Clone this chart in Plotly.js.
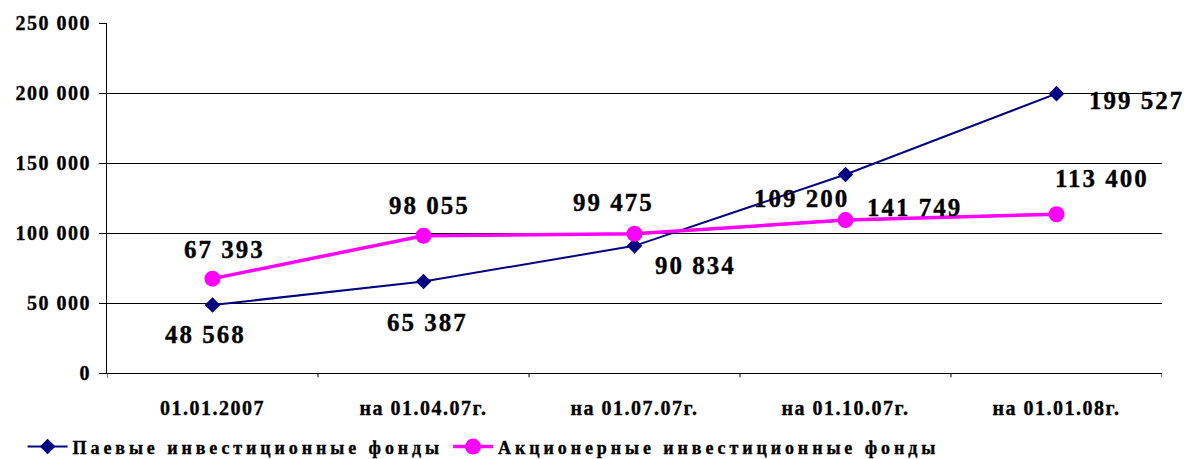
<!DOCTYPE html>
<html>
<head>
<meta charset="utf-8">
<script src="https://cdn.plot.ly/plotly-3.0.1.min.js"></script>
<style>
  html, body { margin: 0; padding: 0; background: #fff; }
  #chart { width: 1184px; height: 459px; }
  .main-svg text { font-weight: 700 !important; stroke: #000; stroke-width: 0.35px; }
  .xtick text, .ytick text { letter-spacing: 1.5px; }
  text.annotation-text { letter-spacing: 2px; }
  text.legendtext { letter-spacing: 3.9px; }
</style>
</head>
<body>
<div id="chart"></div>
<script>
const categories = ["01.01.2007", "на 01.04.07г.", "на 01.07.07г.", "на 01.10.07г.", "на 01.01.08г."];
const seriesNames = ["Паевые инвестиционные фонды", "Акционерные инвестиционные фонды"];
const paevye = [48568, 65387, 90834, 141749, 199527];
const akcionernye = [67393, 98055, 99475, 109200, 113400];
const yTickVals = [0, 50000, 100000, 150000, 200000, 250000];

// label offsets (pixels) as in the reference layout
const paevyeShift = [[-7, -29], [4, -41], [61, -20], [69, -33], [80, -7]];
const akcShift = [[12, 29], [6, 30], [-21, 31], [-44, 22], [45, 36]];

function fmt(v) { return String(v).replace(/\B(?=(\d{3})+(?!\d))/g, " "); }

const xIdx = categories.map((c, i) => i);
const SERIF = "Liberation Serif";

const traces = [
  {
    x: xIdx, y: paevye, name: seriesNames[0], type: "scatter", mode: "lines+markers",
    line: { color: "#000080", width: 2 },
    marker: { symbol: "diamond", size: 12, color: "#000080" }
  },
  {
    x: xIdx, y: akcionernye, name: seriesNames[1], type: "scatter", mode: "lines+markers",
    line: { color: "#FF00FF", width: 3.5 },
    marker: { symbol: "circle", size: 16, color: "#FF00FF" }
  }
];

const labelFont = { family: SERIF, size: 25, color: "#000", weight: "bold" };
const annotations = [];
paevye.forEach((v, i) => annotations.push({
  x: i, y: v, xref: "x", yref: "y", text: fmt(v), showarrow: false,
  xshift: paevyeShift[i][0], yshift: paevyeShift[i][1], font: labelFont
}));
akcionernye.forEach((v, i) => annotations.push({
  x: i, y: v, xref: "x", yref: "y", text: fmt(v), showarrow: false,
  xshift: akcShift[i][0], yshift: akcShift[i][1], font: labelFont
}));

const tickFont = { family: SERIF, size: 20, color: "#000", weight: "bold" };

const layout = {
  width: 1184, height: 459,
  margin: { l: 107, r: 22, t: 23, b: 86, autoexpand: false },
  paper_bgcolor: "#fff", plot_bgcolor: "#fff",
  showlegend: true,
  legend: {
    orientation: "h", x: -0.08, xanchor: "left", y: -0.211, yanchor: "middle",
    font: { family: SERIF, size: 18, color: "#000", weight: "bold" },
    itemwidth: 40, tracegroupgap: 0
  },
  xaxis: {
    type: "linear", range: [-0.5, 4.5], automargin: false,
    tickmode: "array", tickvals: xIdx, ticktext: categories,
    showgrid: false, zeroline: false,
    showline: true, linecolor: "#000", linewidth: 1,
    ticks: "", tickfont: tickFont, ticklabelstandoff: 17
  },
  yaxis: {
    range: [0, 250000], tickmode: "array", tickvals: yTickVals, automargin: false,
    ticktext: yTickVals.map(fmt),
    showgrid: true, gridcolor: "#000", gridwidth: 1,
    zeroline: false, showline: true, linecolor: "#000", linewidth: 1,
    ticks: "outside", ticklen: 7, tickcolor: "#000", tickfont: tickFont,
    ticklabelstandoff: 4
  },
  shapes: [],
  annotations: annotations
};

// boundary tick marks on the category axis
[0.5, 1.5, 2.5, 3.5, 4.5].forEach(b => layout.shapes.push({
  type: "line", xref: "x", yref: "paper", x0: b, x1: b, y0: 0, y1: -0.012,
  line: { color: "#000", width: 1 }
}));
layout.shapes.push({ type: "line", xref: "x", yref: "paper", x0: -0.5, x1: -0.5, y0: 0, y1: -0.014, line: { color: "#000", width: 1 } });

Plotly.newPlot("chart", traces, layout, { displayModeBar: false, staticPlot: true });
</script>
</body>
</html>
